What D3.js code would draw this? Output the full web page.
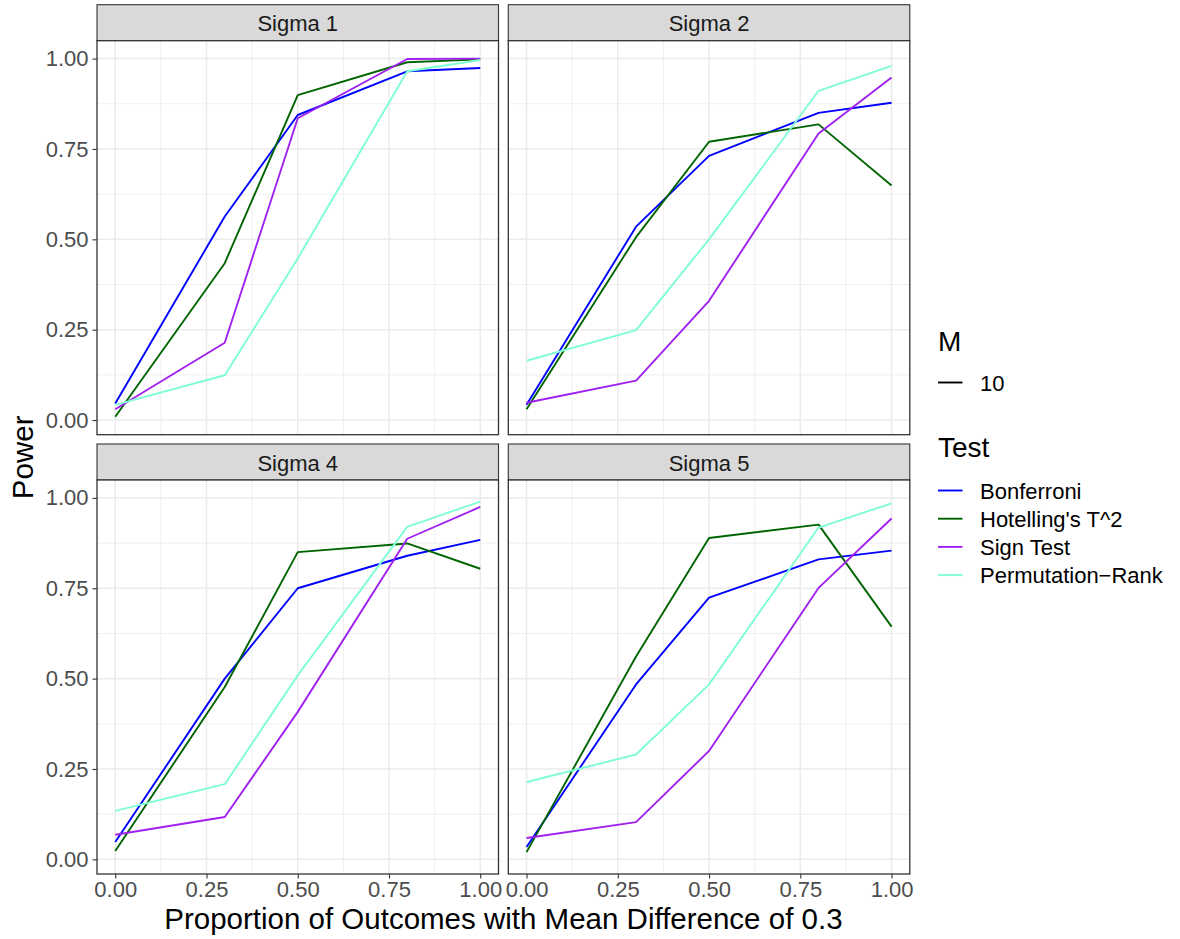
<!DOCTYPE html>
<html>
<head>
<meta charset="utf-8">
<script src="https://cdn.jsdelivr.net/npm/d3@7"></script>
<style>
  body { margin: 0; background: #fff; }
  text { font-family: "Liberation Sans", Arial, sans-serif; }
</style>
</head>
<body>
<div id="chart"></div>
<script>
// proportion of outcomes with mean difference (x)
let proportions = [0, 0.3, 0.5, 0.8, 1.0];
let panels = ["Sigma 1", "Sigma 2", "Sigma 4", "Sigma 5"];
let tests = ["Bonferroni", "Hotelling's T^2", "Sign Test", "Permutation\u2212Rank"];
let testColors = ["#0000FF", "#006400", "#A020F0", "#7FFFD4"];
let tickLabels = ["0.00", "0.25", "0.50", "0.75", "1.00"];

// power per panel (rows: Sigma 1, 2, 4, 5)
let bonferroni = [
  [0.046, 0.563, 0.844, 0.965, 0.974],
  [0.042, 0.535, 0.731, 0.850, 0.878],
  [0.048, 0.500, 0.750, 0.840, 0.884],
  [0.034, 0.484, 0.724, 0.830, 0.854]
];
let hotelling = [
  [0.009, 0.434, 0.899, 0.990, 0.998],
  [0.030, 0.506, 0.770, 0.818, 0.649],
  [0.023, 0.477, 0.850, 0.874, 0.804],
  [0.020, 0.561, 0.889, 0.926, 0.644]
];
let signTest = [
  [0.030, 0.214, 0.835, 0.999, 1.000],
  [0.048, 0.109, 0.330, 0.793, 0.948],
  [0.068, 0.117, 0.408, 0.887, 0.975],
  [0.059, 0.103, 0.300, 0.751, 0.943]
];
let permRank = [
  [0.042, 0.124, 0.447, 0.965, 0.996],
  [0.164, 0.249, 0.500, 0.911, 0.980],
  [0.134, 0.208, 0.509, 0.920, 0.990],
  [0.214, 0.290, 0.484, 0.918, 0.985]
];
let seriesByTest = [bonferroni, hotelling, signTest, permRank];

{
  let sizex = 1180,
      sizey = 939;

  var svg = d3.select("#chart")
    .append("svg")
      .attr("width", sizex)
      .attr("height", sizey);

  // panel geometry
  var panelW = 401.5,
      panelH = 394,
      stripH = 36,
      colX = [97, 508.3],
      rowY = [4.7, 444];

  // shared scales with 5% expansion like ggplot
  var allVals = seriesByTest.flat(2);
  var ymin = d3.min(allVals), ymax = d3.max(allVals);
  var ypad = (ymax - ymin) * 0.05;
  var scalex = d3.scaleLinear()
    .domain([-0.05, 1.05])
    .range([0, panelW]);
  var scaley = d3.scaleLinear()
    .domain([ymin - ypad, ymax + ypad])
    .range([panelH, 0]);

  var majors = [0, 0.25, 0.5, 0.75, 1];
  var minors = [0.125, 0.375, 0.625, 0.875];
  var smallFont = "22px 'Liberation Sans', Arial, sans-serif";

  var line = d3.line()
    .x((d, i) => scalex(proportions[i]))
    .y(d => scaley(d));

  panels.forEach(function(name, p) {
    var col = p % 2, row = Math.floor(p / 2);
    var g = svg.append("g")
      .attr("transform", "translate(" + colX[col] + "," + rowY[row] + ")");

    // strip
    g.append("rect")
      .attr("x", 0).attr("y", 0)
      .attr("width", panelW).attr("height", stripH)
      .attr("fill", "#D9D9D9")
      .attr("stroke", "#333333")
      .attr("stroke-width", 1.1);
    g.append("text")
      .attr("x", panelW / 2)
      .attr("y", stripH / 2 + 8.5)
      .attr("text-anchor", "middle")
      .style("font", smallFont)
      .attr("fill", "#1A1A1A")
      .text(name);

    var pg = g.append("g")
      .attr("transform", "translate(0," + stripH + ")");

    pg.append("rect")
      .attr("width", panelW).attr("height", panelH)
      .attr("fill", "#fff");

    // grid
    minors.forEach(function(v) {
      pg.append("line")
        .attr("x1", scalex(v)).attr("x2", scalex(v))
        .attr("y1", 0).attr("y2", panelH)
        .attr("stroke", "#EBEBEB").attr("stroke-width", 0.8);
      pg.append("line")
        .attr("x1", 0).attr("x2", panelW)
        .attr("y1", scaley(v)).attr("y2", scaley(v))
        .attr("stroke", "#EBEBEB").attr("stroke-width", 0.8);
    });
    majors.forEach(function(v) {
      pg.append("line")
        .attr("x1", scalex(v)).attr("x2", scalex(v))
        .attr("y1", 0).attr("y2", panelH)
        .attr("stroke", "#EBEBEB").attr("stroke-width", 1.5);
      pg.append("line")
        .attr("x1", 0).attr("x2", panelW)
        .attr("y1", scaley(v)).attr("y2", scaley(v))
        .attr("stroke", "#EBEBEB").attr("stroke-width", 1.5);
    });

    // lines
    seriesByTest.forEach(function(s, t) {
      pg.append("path")
        .attr("d", line(s[p]))
        .attr("fill", "none")
        .attr("stroke", testColors[t])
        .attr("stroke-width", 1.9)
        .attr("stroke-linejoin", "round");
    });

    pg.append("rect")
      .attr("width", panelW).attr("height", panelH)
      .attr("fill", "none")
      .attr("stroke", "#333333")
      .attr("stroke-width", 1.3);

    // y axis on left column
    if (col == 0) {
      var ay = pg.append("g")
        .call(d3.axisLeft(scaley).tickValues(majors)
          .tickFormat((d, i) => tickLabels[i]).tickSize(4.5).tickPadding(4));
      ay.select(".domain").remove();
      ay.selectAll("line").attr("stroke", "#333333").attr("stroke-width", 1.1);
      ay.selectAll("text")
        .style("font", smallFont)
        .attr("fill", "#4D4D4D");
    }
    // x axis on bottom row
    if (row == 1) {
      var ax = pg.append("g")
        .attr("transform", "translate(0," + panelH + ")")
        .call(d3.axisBottom(scalex).tickValues(majors)
          .tickFormat((d, i) => tickLabels[i]).tickSize(4.5).tickPadding(3));
      ax.select(".domain").remove();
      ax.selectAll("line").attr("stroke", "#333333").attr("stroke-width", 1.1);
      ax.selectAll("text")
        .style("font", smallFont)
        .attr("fill", "#4D4D4D");
    }
  });

  // axis titles
  svg.append("text")
    .attr("x", (colX[0] + colX[1] + panelW) / 2)
    .attr("y", 929)
    .attr("text-anchor", "middle")
    .style("font-size", "29.5px")
    .attr("fill", "#000")
    .text("Proportion of Outcomes with Mean Difference of 0.3");
  svg.append("text")
    .attr("transform", "translate(33," + ((rowY[0] + stripH + rowY[1] + stripH + panelH) / 2) + ") rotate(-90)")
    .attr("text-anchor", "middle")
    .style("font-size", "29.5px")
    .attr("fill", "#000")
    .text("Power");

  // legends
  var lx = 938;
  svg.append("text")
    .attr("x", lx).attr("y", 351)
    .style("font-size", "28px")
    .text("M");
  svg.append("line")
    .attr("x1", lx).attr("x2", lx + 24.5)
    .attr("y1", 382.5).attr("y2", 382.5)
    .attr("stroke", "#000").attr("stroke-width", 1.9);
  svg.append("text")
    .attr("x", 980).attr("y", 382.5 + 8)
    .style("font", smallFont)
    .text("10");

  svg.append("text")
    .attr("x", lx).attr("y", 457)
    .style("font-size", "28px")
    .text("Test");
  tests.forEach(function(t, i) {
    var cy = 490.5 + i * 28.2;
    svg.append("line")
      .attr("x1", lx).attr("x2", lx + 24.5)
      .attr("y1", cy).attr("y2", cy)
      .attr("stroke", testColors[i]).attr("stroke-width", 1.9);
    svg.append("text")
      .attr("x", 980).attr("y", cy + 8)
      .style("font", smallFont)
      .text(t);
  });
}
</script>
</body>
</html>
